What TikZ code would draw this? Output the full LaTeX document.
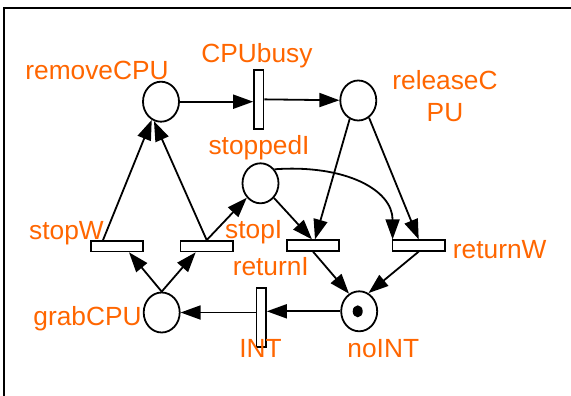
\documentclass[tikz,border=0pt]{standalone}
\usepackage{fontspec}
\setmainfont{Liberation Sans}
\usetikzlibrary{shapes.geometric,arrows.meta}
\definecolor{lblorange}{RGB}{255,102,0}
\begin{document}
\begin{tikzpicture}[x=1pt,y=-1pt,
  place/.style={ellipse,draw,line width=1.8pt,minimum width=36pt,minimum height=40pt,inner sep=0pt},
  vtrans/.style={rectangle,draw,fill=white,line width=1.7pt,minimum width=9.5pt,minimum height=59pt,inner sep=0pt},
  htrans/.style={rectangle,draw,fill=white,line width=1.7pt,minimum width=52.5pt,minimum height=10.5pt,inner sep=0pt},
  arc/.style={draw,line width=1.8pt,-{Triangle[length=20pt,width=14pt]}},
  lbl/.style={text=lblorange,font=\fontsize{26.3}{31.7}\selectfont,inner sep=0pt,anchor=base}]
\useasboundingbox (0,0) rectangle (571,396);
\clip (0,0) rectangle (571,396);
\fill[white] (0,0) rectangle (571,396);
% outer frame (runs off the right and bottom edges)
\draw[line width=2.2pt] (4,410) -- (4,8) -- (590,8);

% places
\node[place] (removeCPU) at (161,101.7) {};
\node[place] (releaseCPU) at (358.3,100.5) {};
\node[place] (stoppedI) at (260.5,183.3) {};
\node[place] (grabCPU) at (161.7,312.5) {};
\node[place] (noINT) at (359.2,311.3) {};
\fill ([xshift=-1.5pt]noINT.center) ellipse (5pt and 6pt);

% transitions
\node[vtrans] (CPUbusy) at (258.8,99.3) {};
\node[vtrans] (INT) at (261.2,317.8) {};
\node[htrans] (stopW) at (117,246.2) {};
\node[htrans] (stopI) at (206.7,246.2) {};
\node[htrans] (returnI) at (313,245.5) {};
\node[htrans] (returnW) at (418.7,245.5) {};

% arcs
\draw[arc] (removeCPU) -- (removeCPU -| CPUbusy.west);
\draw[arc] (CPUbusy) -- (releaseCPU);
\draw[arc] ([xshift=-14pt]stopW.north) -- (removeCPU.-117);
\draw[arc] (stopI.north) -- (removeCPU.-110);
\draw[arc] (stopI.north) -- (stoppedI);
\draw[arc] (grabCPU.north) -- ([xshift=12pt]stopW.south);
\draw[arc] (grabCPU.north) -- ([xshift=-11pt]stopI.south);
\draw[arc] (stoppedI) -- ([xshift=-1pt]returnI.north);
\draw[arc] (releaseCPU.-115) -- ([xshift=2pt]returnI.north);
\draw[arc] (releaseCPU.-58) -- (returnW.north);
\draw[arc] (stoppedI.45) .. controls +(70,-5) and +(0,-50) .. ([xshift=1pt]returnW.north west);
\draw[arc] (returnI.south) -- (noINT.120);
\draw[arc] (returnW.south) -- (noINT.63);
\draw[arc] (noINT.west) -- (noINT.west -| INT.east);
\draw[arc] (INT.west |- grabCPU.east) -- (grabCPU.east);

% labels
\node[lbl] (tRemoveCPU) at (97,79.5) {removeCPU};
\node[lbl] (tCPUbusy) at (257,63) {CPUbusy};
\node[lbl,align=center] (tReleaseCPU) at (445,121.7) {releaseC\\PU};
\node[lbl] (tStoppedI) at (259,154) {stoppedI};
\node[lbl] (tStopW) at (66.5,239) {stopW};
\node[lbl] (tStopI) at (253.7,238.3) {stopI};
\node[lbl] (tReturnI) at (270.8,275) {returnI};
\node[lbl] (tReturnW) at (499.7,258.3) {returnW};
\node[lbl] (tGrabCPU) at (87.5,325) {grabCPU};
\node[lbl] (tINT) at (260.5,357.3) {INT};
\node[lbl] (tNoINT) at (383.3,357.3) {noINT};
\end{tikzpicture}
\end{document}
